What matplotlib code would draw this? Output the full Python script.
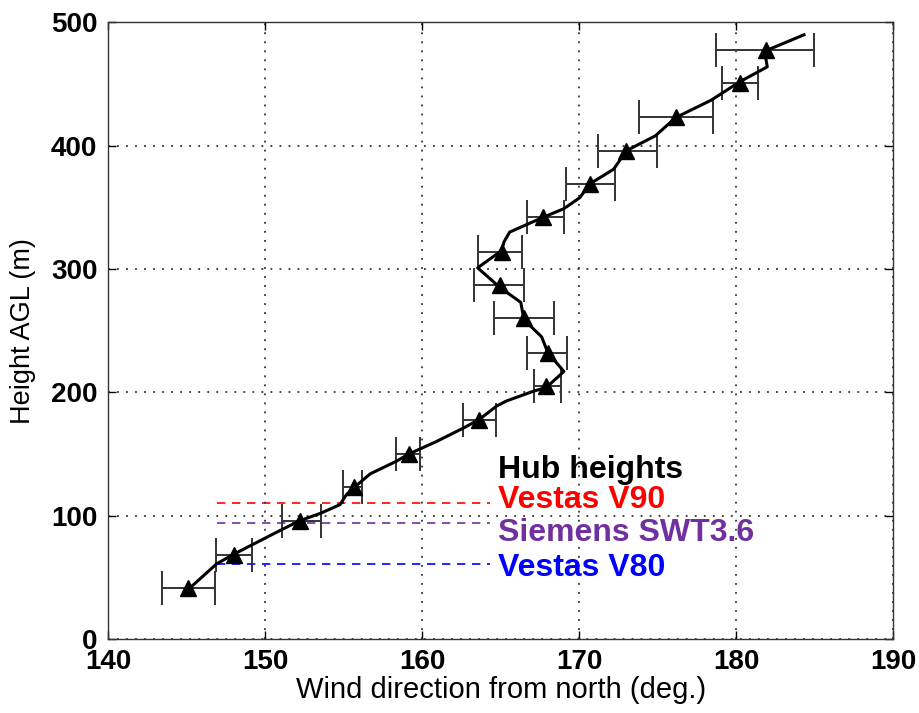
import matplotlib
matplotlib.use("Agg")
import matplotlib.pyplot as plt

# ── Data ─────────────────────────────────────────────────────────────────────
# smoothed wind-direction profile (deg, m)
line_dir = [145.07, 146.90, 148.03, 149.25, 151.09, 152.21, 153.53, 154.76, 155.16, 155.67,
            156.69, 158.33, 159.14, 160.88, 162.61, 163.63, 164.75, 165.36, 167.10, 167.91,
            169.03, 168.01, 167.61, 166.48, 166.28, 164.96, 163.53, 165.06, 165.21, 165.57,
            167.71, 169.03, 170.05, 170.67, 172.20, 173.01, 174.85, 176.17, 178.42, 180.25,
            181.99, 181.88, 181.88, 184.33]
line_h = [40, 61, 69, 77, 89, 96, 102, 109, 117, 123,
          134, 144, 150, 160, 171, 178, 189, 193, 201, 204,
          217, 232, 245, 259, 273, 285, 301, 315, 322, 330,
          342, 349, 358, 369, 381, 396, 408, 423, 437, 452,
          464, 472, 477, 490]

# binned means with spread
bin_h = [41, 68, 96, 123, 150, 178, 205, 232, 260, 287, 314, 342, 369, 396, 423, 451, 478]
bin_dir = [145.07, 148.03, 152.21, 155.67, 159.14, 163.63, 167.91, 168.01, 166.48, 164.96,
           165.06, 167.71, 170.67, 173.01, 176.17, 180.25, 181.88]
bin_lo = [143.44, 146.85, 151.09, 154.96, 158.33, 162.61, 167.10, 166.69, 164.55, 163.32,
          163.53, 166.69, 169.14, 171.18, 173.83, 179.13, 178.72]
bin_hi = [146.80, 149.15, 153.53, 156.18, 159.86, 164.70, 168.83, 169.24, 168.42, 166.48,
          166.38, 169.03, 172.30, 174.95, 178.52, 181.37, 184.94]

# turbine hub heights
hub_names = ["Vestas V90", "Siemens SWT3.6", "Vestas V80"]
hub_heights = [110, 94, 61]
hub_colors = ["#FF0000", "#7030A0", "#0000FF"]
hub_text_y = [106.6, 79.5, 51.1]

plt.rcParams["font.family"] = ["Liberation Sans", "DejaVu Sans"]

fig = plt.figure(figsize=(9.2, 7.13), dpi=100)
ax = fig.add_axes([0.1179, 0.1038, 0.8527, 0.8647])

xerr = [[d - lo for d, lo in zip(bin_dir, bin_lo)],
        [hi - d for d, hi in zip(bin_dir, bin_hi)]]
ax.errorbar(bin_dir, bin_h, xerr=xerr, fmt="none", ecolor="#333333",
            elinewidth=1.4, capsize=12, capthick=1.4, zorder=2)
ax.plot(line_dir, line_h, color="black", linewidth=2.2, zorder=3)
ax.plot(bin_dir, bin_h, linestyle="none", marker="^", markersize=11,
        color="black", zorder=4)

# hub height lines + labels
for name, h, c, ty in zip(hub_names, hub_heights, hub_colors, hub_text_y):
    ax.plot([146.9, 164.3], [h, h], color=c, linestyle=(0, (5, 4)), linewidth=1.2, zorder=1)
    ax.text(164.8, ty, name, color=c, fontsize=23, fontweight="bold",
            ha="left", va="baseline")
ax.text(164.8, 130.6, "Hub heights", color="black", fontsize=23, fontweight="bold",
        ha="left", va="baseline")

ax.set_xlim(140, 190)
ax.set_ylim(0, 500)
ax.set_xticks([140, 150, 160, 170, 180, 190])
ax.set_yticks([0, 100, 200, 300, 400, 500])
ax.grid(True, linestyle=(0, (1, 4)), color="#333333", linewidth=1.3)
ax.tick_params(direction="in", top=True, right=True, length=6, width=1,
               labelsize=20)
ax.tick_params(axis="x", pad=7)
ax.tick_params(axis="y", pad=8)
for lbl in ax.get_xticklabels() + ax.get_yticklabels():
    lbl.set_fontweight("bold")
for sp in ax.spines.values():
    sp.set_linewidth(1.0)
    sp.set_color("#333333")

ax.set_xlabel("Wind direction from north (deg.)", fontsize=21, labelpad=1)
ax.set_ylabel("Height AGL (m)", fontsize=19.5, labelpad=11)

fig.savefig("out.png", dpi=100)
